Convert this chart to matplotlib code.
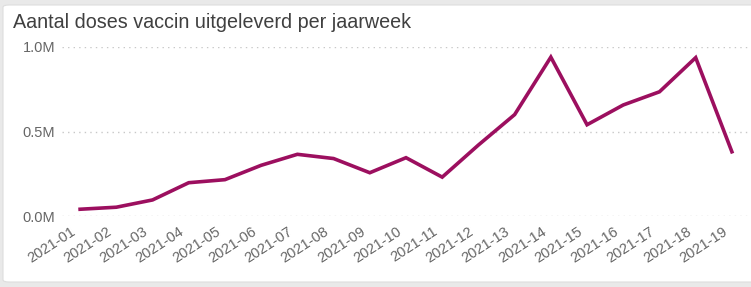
import matplotlib
matplotlib.use("Agg")
import matplotlib.pyplot as plt
from matplotlib.patches import FancyBboxPatch
from matplotlib.ticker import FuncFormatter
from matplotlib.transforms import ScaledTranslation

weeks = ["2021-01", "2021-02", "2021-03", "2021-04", "2021-05", "2021-06", "2021-07",
         "2021-08", "2021-09", "2021-10", "2021-11", "2021-12", "2021-13", "2021-14",
         "2021-15", "2021-16", "2021-17", "2021-18", "2021-19"]
doses = [40000, 52000, 95000, 197000, 215000, 300000, 365000,
         340000, 256000, 345000, 230000, 420000, 600000, 940000,
         540000, 657000, 735000, 937000, 380000]
yticks = [0, 500000, 1000000]

plt.rcParams['font.family'] = ['Liberation Sans', 'DejaVu Sans']

W, H = 751, 287
fig = plt.figure(figsize=(W / 100, H / 100), dpi=100)
fig.patch.set_facecolor('#e9e9e9')
card = FancyBboxPatch((3 / W, 5 / H), (W + 10) / W, (H - 10) / H,
                      boxstyle="round,pad=0,rounding_size=0.008",
                      transform=fig.transFigure, facecolor='white',
                      edgecolor='#dddddd', linewidth=0.8, zorder=-5)
fig.patches.append(card)

fig.text(13 / W, 1 - 22 / H, "Aantal doses vaccin uitgeleverd per jaarweek",
         fontsize=14.2, color='#404040', ha='left', va='center', zorder=5)

ax = fig.add_axes([62 / W, 1 - 216 / H, 688 / W, 169 / H], zorder=2)
ax.set_facecolor('none')
x = list(range(len(weeks)))
ax.plot(x, doses, color='#9c0f5f', linewidth=2.6, clip_on=False,
        solid_joinstyle='miter', zorder=3)
ax.set_xlim(-0.5, len(weeks) - 0.5)
ax.set_ylim(0, 1000000)
ax.set_yticks(yticks)
ax.yaxis.set_major_formatter(FuncFormatter(lambda v, p: f"{v/1e6:.1f}M"))
ax.grid(axis='y', color='#c8c8c8', linestyle=(0, (1, 3)), linewidth=1.0)
for s in ax.spines.values():
    s.set_visible(False)
ax.tick_params(axis='both', length=0, colors='#666666', labelsize=10.5)
ax.tick_params(axis='y', pad=5)
ax.set_xticks(x)
ax.set_xticklabels(weeks, rotation=33, ha='right', va='center', rotation_mode='anchor')
ax.tick_params(axis='x', pad=10)
off = ScaledTranslation(-6 / 100, 0, fig.dpi_scale_trans)
for lbl in ax.get_xticklabels():
    lbl.set_transform(lbl.get_transform() + off)

fig.savefig("out.png", dpi=100, facecolor=fig.get_facecolor())
